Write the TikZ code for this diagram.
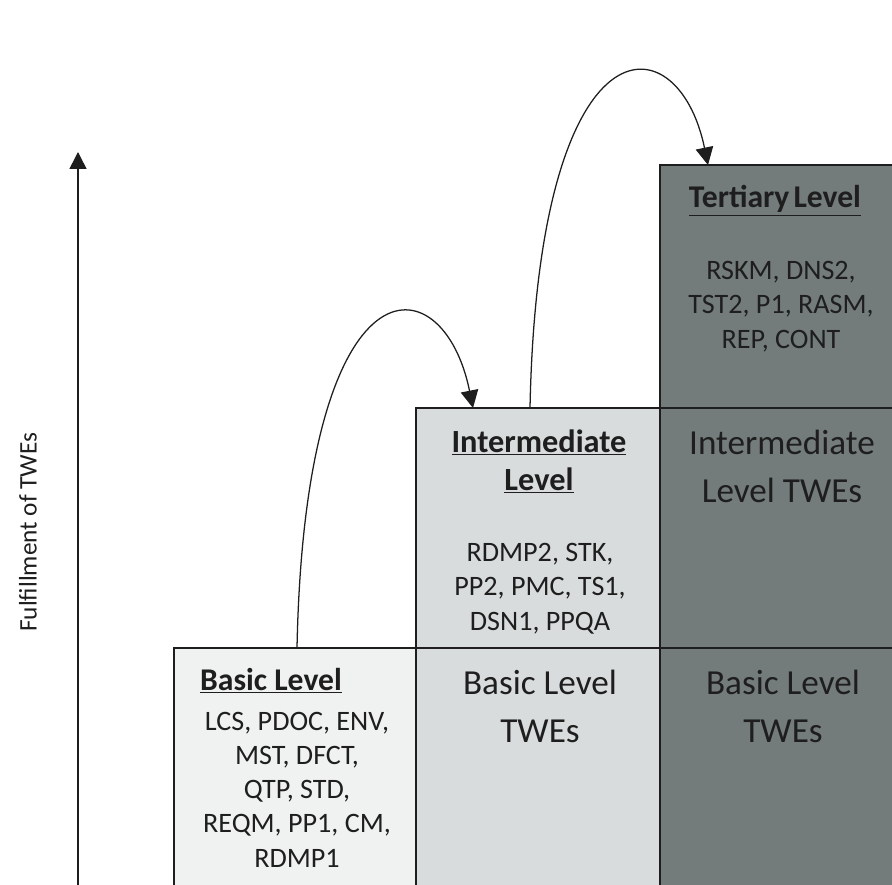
\documentclass[tikz,border=0pt]{standalone}
\usepackage{fontspec}
\setmainfont{Carlito}
\usetikzlibrary{arrows.meta,calc}
\definecolor{basicfill}{HTML}{F0F2F2}
\definecolor{midfill}{HTML}{D9DCDC}
\definecolor{topfill}{HTML}{737B7B}
\definecolor{ink}{HTML}{1E1E1E}
\begin{document}
\begin{tikzpicture}[x=0.025cm,y=-0.025cm,
  cell/.style={draw=ink,line width=0.9pt,inner sep=0pt,outer sep=0pt,anchor=north west},
  head/.style={font=\fontsize{22.5}{27}\bfseries\selectfont,text=ink,align=center,anchor=base},
  list/.style={font=\fontsize{20}{24.3}\selectfont,text=ink,align=center,anchor=base},
  twe/.style={font=\fontsize{25}{33.5}\selectfont,text=ink,align=center,anchor=base},
  lift/.style={-{Triangle[length=12.5pt,width=12.5pt]},line width=0.9pt,draw=ink}]
\useasboundingbox (0,0) rectangle (892,885);
\clip (0,0) rectangle (892,885);

% level cells
\node[cell,fill=basicfill,minimum width=6.05cm,minimum height=6.3cm] (basic) at (174,648) {};
\node[cell,fill=midfill,minimum width=6.1cm,minimum height=6.3cm] (interB) at (416,648) {};
\node[cell,fill=midfill,minimum width=6.1cm,minimum height=6cm] (interT) at (416,408) {};
\node[cell,fill=topfill,minimum width=6.5cm,minimum height=6.3cm] (terB) at (660,648) {};
\node[cell,fill=topfill,minimum width=6.5cm,minimum height=6cm] (terM) at (660,408) {};
\node[cell,fill=topfill,line width=1.3pt,minimum width=6.5cm,minimum height=6.075cm] (terT) at (660,165) {};

% vertical axis
\coordinate (axisBot) at (78,900);
\coordinate (axisTop) at (78,152);
\draw[-{Triangle[length=12pt,width=12pt]},line width=1.1pt,draw=ink] (axisBot) -- (axisTop);
\node[rotate=90,font=\fontsize{18}{20}\selectfont,text=ink] (axisLabel) at (28,532) {Fulfillment of TWEs};

% basic level (multi-line nodes sit on the baseline of their last line)
\node[head] (basicHead) at (271,690) {\underline{Basic Level}};
\node[list] (basicList) at (297,867) {LCS, PDOC, ENV,\\MST, DFCT,\\QTP, STD,\\REQM, PP1, CM,\\RDMP1};

% intermediate level
\node[head,font=\fontsize{23}{27}\bfseries\selectfont] (interHead) at (539,490) {\underline{Intermediate}\\\underline{Level}};
\node[list] (interList) at (540,630) {RDMP2, STK,\\PP2, PMC, TS1,\\DSN1, PPQA};
\node[twe] (interBasic) at (540,742) {Basic Level\\TWEs};

% tertiary level
\node[head] (terHead) at (775,208) {\underline{Tertiary\kern-0.1em\ Level}};
\node[list] (terList) at (781,348) {RSKM, DNS2,\\TST2, P1, RASM,\\REP, CONT};
\node[twe] (terInter) at (782,502) {Intermediate\\Level TWEs};
\node[twe] (terBasic) at (783,742) {Basic Level\\TWEs};

% progression arrows
\draw[lift] ($(basic.north west)+(123,0)$) .. controls +(8,-398) and +(-30,-148) .. ($(interT.north west)+(57,0)$);
\draw[lift] ($(interT.north west)+(114,0)$) .. controls +(8,-396) and +(-30,-146) .. ($(terT.north west)+(48,0)$);
\end{tikzpicture}
\end{document}
